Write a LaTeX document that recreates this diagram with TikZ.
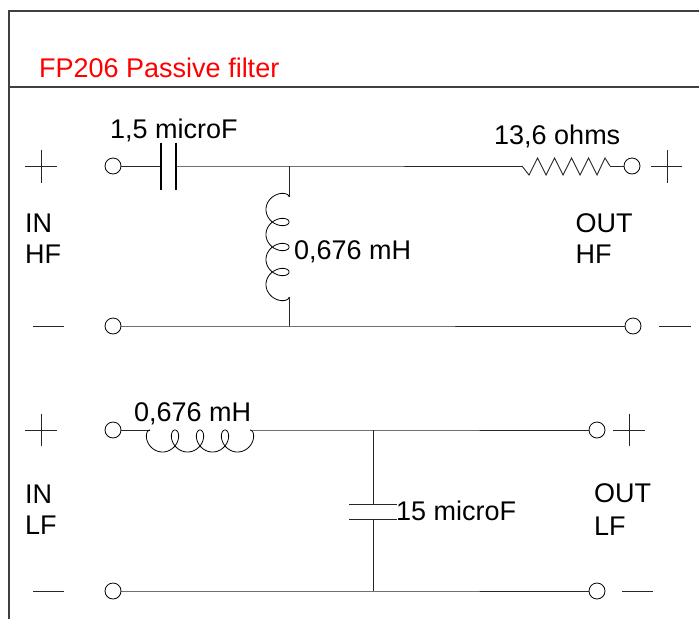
\documentclass[tikz,border=0pt]{standalone}
\usepackage{fontspec}
\setmainfont{Liberation Sans}
\begin{document}
\begin{tikzpicture}[x=1pt,y=-1pt,
  wire/.style={line width=0.9pt, black!85},
  term/.style={circle, draw, line width=0.8pt, minimum size=16pt, inner sep=0pt, fill=white},
  lbl/.style={anchor=base west, inner sep=0pt, font=\fontsize{27}{31}\selectfont},
  sign/.style={line width=0.8pt, black!85},
  frame/.style={line width=1.2pt, black!75},
  plate/.style={line width=1.6pt, black},
  coil/.style={line width=0.8pt, black}]
\useasboundingbox (0,0) rectangle (699,619);
\fill[white] (0,0) rectangle (699,619);
% frame
\draw[frame] (9,619) -- (9,11) -- (699,11);
\draw[frame] (9,87) -- (699,87);
\node[lbl, text=red] (title) at (39,77) {FP206 Passive filter};
% terminals
\node[term] (hi1) at (113,166) {};
\node[term] (hi2) at (113,326) {};
\node[term] (ho1) at (632,166) {};
\node[term] (ho2) at (633,326) {};
\node[term] (li1) at (113,430) {};
\node[term] (li2) at (113,591) {};
\node[term] (lo1) at (597,430) {};
\node[term] (lo2) at (597,591) {};
% coordinates
\coordinate (c1a) at (161,166); \coordinate (c1b) at (176,166);
\coordinate (j1) at (289,166); \coordinate (j2) at (289,326);
\coordinate (r1s) at (522,166); \coordinate (r1e) at (610,166);
\coordinate (l1s) at (289,197); \coordinate (l1e) at (289,297);
\coordinate (l2s) at (150,430); \coordinate (l2e) at (250,430);
\coordinate (j3) at (373,430); \coordinate (j4) at (373,591);
\coordinate (c2t) at (373,504); \coordinate (c2b) at (373,519);
% HF section
\draw[wire] (hi1) -- (c1a);
\draw[plate] (161,143) -- (161,190);
\draw[plate] (176,143) -- (176,190);
\draw[wire] (c1b) -- (j1) -- (r1s);
\draw[wire] (r1s) -- (529,175) -- (537.5,158) -- (546,175) -- (554.5,158) -- (563,175)
  -- (571.5,158) -- (580,175) -- (588.5,158) -- (597,175) -- (605,158) -- (r1e);
\draw[wire] (r1e) -- (ho1);
\draw[wire] (j1) -- (l1s);
\draw[coil] plot[domain=0:25.1327, samples=300, variable=\t]
  ({277.5+11.5*cos(\t r)}, {197+3.979*\t-9*sin(\t r)});
\draw[wire] (l1e) -- (j2);
\draw[wire] (hi2) -- (j2) -- (ho2);
% LF section
\draw[wire] (li1) -- (l2s);
\draw[coil] plot[domain=0:25.1327, samples=300, variable=\t]
  ({150+3.979*\t-9*sin(\t r)}, {441-11*cos(\t r)});
\draw[wire] (l2e) -- (j3) -- (lo1);
\draw[wire] (j3) -- (c2t);
\draw[wire] (349,504) -- (397,504);
\draw[wire] (349,519) -- (397,519);
\draw[wire] (c2b) -- (j4);
\draw[wire] (li2) -- (j4) -- (lo2);
% signs
\draw[sign] (25,166) -- (57,166) (41,150) -- (41,183);
\draw[sign] (651,166) -- (682,166) (667,150) -- (667,183);
\draw[sign] (33,326) -- (64,326);
\draw[sign] (659,326) -- (691,326);
\draw[sign] (25,430) -- (57,430) (41,414) -- (41,446);
\draw[sign] (613,430) -- (645,430) (629,414) -- (629,446);
\draw[sign] (33,591) -- (64,591);
\draw[sign] (622,591) -- (653,591);
% labels
\node[lbl] (capHF) at (110,138) {1,5 microF};
\node[lbl] (resHF) at (494,144) {13,6 ohms};
\node[lbl] (indHF) at (294,259) {0,676 mH};
\node[lbl] (inHFa) at (25,232) {IN};
\node[lbl] (inHFb) at (25,263) {HF};
\node[lbl] (outHFa) at (575.5,232) {OUT};
\node[lbl] (outHFb) at (575.5,263) {HF};
\node[lbl] (indLF) at (134,421) {0,676 mH};
\node[lbl] (inLFa) at (25,503) {IN};
\node[lbl] (inLFb) at (25,534) {LF};
\node[lbl] (outLFa) at (594,502) {OUT};
\node[lbl] (outLFb) at (594,535) {LF};
\node[lbl] (capLF) at (396,520) {15 microF};
\end{tikzpicture}
\end{document}
